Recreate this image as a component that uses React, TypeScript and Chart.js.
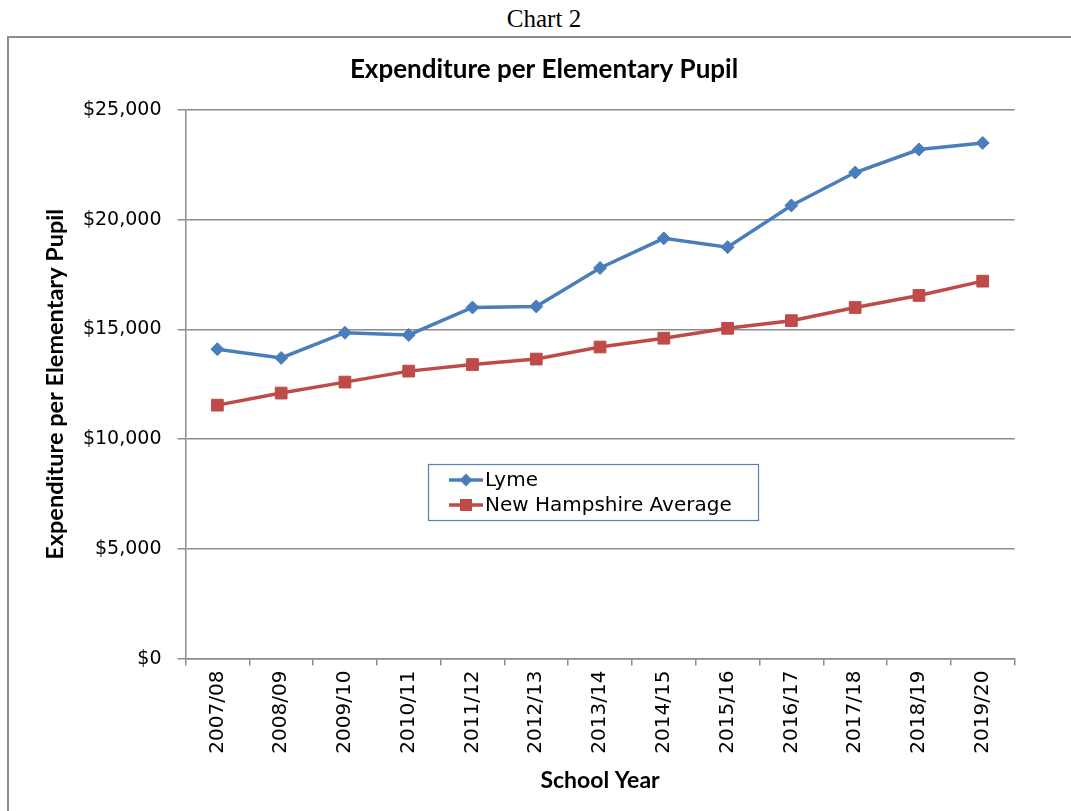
import React, { useEffect, useRef } from "react";
import { Chart, registerables } from "chart.js";

Chart.register(...registerables);

const categories = [
  "2007/08", "2008/09", "2009/10", "2010/11", "2011/12", "2012/13", "2013/14",
  "2014/15", "2015/16", "2016/17", "2017/18", "2018/19", "2019/20",
];
const lymeValues = [14100, 13700, 14850, 14750, 16000, 16050, 17800, 19150, 18750, 20650, 22150, 23200, 23500];
const nhValues = [11550, 12100, 12600, 13100, 13400, 13650, 14200, 14600, 15050, 15400, 16000, 16550, 17200];
const yTicks = [0, 5000, 10000, 15000, 20000, 25000];
const seriesNames = ["Lyme", "New Hampshire Average"];
const seriesColors = ["#4a7ebb", "#be4b48"];
const chartTitle = "Expenditure per Elementary Pupil";
const yTitle = "Expenditure per Elementary Pupil";
const xTitle = "School Year";
const pageTitle = "Chart 2";

const TICK_FONT = "'DejaVu Sans', Verdana, sans-serif";
const TITLE_FONT = "Lato, 'Open Sans', sans-serif";

function drawMarker(ctx: CanvasRenderingContext2D, style: string, x: number, y: number, r: number, color: string) {
  ctx.fillStyle = color;
  ctx.beginPath();
  if (style === "rectRot") {
    ctx.moveTo(x, y - r);
    ctx.lineTo(x + r, y);
    ctx.lineTo(x, y + r);
    ctx.lineTo(x - r, y);
    ctx.closePath();
  } else {
    const s = r * Math.SQRT1_2;
    ctx.rect(x - s, y - s, 2 * s, 2 * s);
  }
  ctx.fill();
}

const titlePlugin = {
  id: "centeredTitle",
  afterDraw(chart: any) {
    const { ctx } = chart;
    ctx.save();
    ctx.fillStyle = "#000";
    ctx.font = `bold 26px ${TITLE_FONT}`;
    ctx.textAlign = "center";
    ctx.textBaseline = "middle";
    ctx.fillText(chartTitle, 534, 31);
    ctx.restore();
  },
};

const boxLegend = {
  id: "boxLegend",
  afterDraw(chart: any) {
    const { ctx, chartArea: ca } = chart;
    const w = ca.right - ca.left;
    const h = ca.bottom - ca.top;
    const x = Math.round(ca.left + 0.2925 * w);
    const y = Math.round(ca.top + 0.645 * h);
    const bw = 330;
    const bh = 56;
    ctx.save();
    ctx.fillStyle = "#ffffff";
    ctx.fillRect(x, y, bw, bh);
    ctx.strokeStyle = "#4f81bd";
    ctx.lineWidth = 1.2;
    ctx.strokeRect(x + 0.5, y + 0.5, bw, bh);
    chart.data.datasets.forEach((ds: any, i: number) => {
      const cy = y + 16 + i * 25;
      ctx.strokeStyle = ds.borderColor;
      ctx.lineWidth = 3.5;
      ctx.beginPath();
      ctx.moveTo(x + 21, cy);
      ctx.lineTo(x + 55, cy);
      ctx.stroke();
      drawMarker(ctx, ds.pointStyle, x + 38, cy, ds.pointStyle === "rectRot" ? 6.5 : 8.5, ds.borderColor);
      ctx.fillStyle = "#000";
      ctx.font = `20px ${TICK_FONT}`;
      ctx.textBaseline = "middle";
      ctx.textAlign = "left";
      ctx.fillText(ds.label, x + 57, cy + 1);
    });
    ctx.restore();
  },
};

export default function App() {
  const canvasRef = useRef<HTMLCanvasElement | null>(null);

  useEffect(() => {
    const canvas = canvasRef.current;
    if (!canvas) return;
    const chart = new Chart(canvas, {
      type: "line",
      data: {
        labels: categories,
        datasets: [
          {
            label: seriesNames[0],
            data: lymeValues,
            borderColor: seriesColors[0],
            backgroundColor: seriesColors[0],
            borderWidth: 3.5,
            pointStyle: "rectRot",
            pointRadius: 6.5,
            pointBorderWidth: 1,
            pointBackgroundColor: seriesColors[0],
            pointBorderColor: seriesColors[0],
            tension: 0,
          },
          {
            label: seriesNames[1],
            data: nhValues,
            borderColor: seriesColors[1],
            backgroundColor: seriesColors[1],
            borderWidth: 3.5,
            pointStyle: "rect",
            pointRadius: 8.3,
            pointBorderWidth: 1,
            pointBackgroundColor: seriesColors[1],
            pointBorderColor: seriesColors[1],
            tension: 0,
          },
        ],
      },
      options: {
        responsive: false,
        animation: false,
        devicePixelRatio: 1,
        layout: { padding: { left: 31, right: 56.4, top: 71, bottom: 0 } },
        plugins: {
          legend: { display: false },
          tooltip: { enabled: false },
          title: { display: false },
        },
        scales: {
          x: {
            offset: true,
            grid: {
              offset: true,
              drawOnChartArea: false,
              drawTicks: true,
              tickLength: 7,
              color: "#8c8c8c",
              lineWidth: 1.5,
            },
            border: { color: "#8c8c8c", width: 1.5 },
            ticks: {
              autoSkip: false,
              minRotation: 90,
              maxRotation: 90,
              padding: 5,
              color: "#000",
              font: { family: TICK_FONT, size: 20 },
            },
            title: {
              display: true,
              text: xTitle,
              color: "#000",
              font: { family: TITLE_FONT, size: 23, weight: "bold" },
              padding: { top: 0, bottom: 17 },
            },
            afterFit(scale: any) {
              scale.height = 152.4;
            },
          },
          y: {
            min: 0,
            max: 25000,
            afterBuildTicks(scale: any) {
              scale.ticks = yTicks.map((v) => ({ value: v }));
            },
            grid: {
              color: "#8c8c8c",
              lineWidth: 1.5,
              tickLength: 8,
              drawTicks: true,
            },
            border: { color: "#8c8c8c", width: 1.5 },
            ticks: {
              padding: 16,
              color: "#000",
              font: { family: TICK_FONT, size: 19 },
              callback: (v: any) => "$" + Number(v).toLocaleString("en-US"),
            },
            title: {
              display: true,
              text: yTitle,
              color: "#000",
              font: { family: TITLE_FONT, size: 23.5, weight: "bold" },
              padding: 0,
            },
            afterFit(scale: any) {
              scale.width = 144.5;
            },
          },
        },
      },
      plugins: [titlePlugin, boxLegend],
    });
    return () => chart.destroy();
  }, []);

  return (
    <div
      style={{
        position: "absolute",
        left: 0,
        top: 0,
        width: 1071,
        height: 811,
        overflow: "hidden",
        background: "#fff",
      }}
    >
      <div
        style={{
          position: "absolute",
          left: 0,
          top: 3,
          width: 1088,
          textAlign: "center",
          fontFamily: "'Liberation Serif', 'Times New Roman', serif",
          fontSize: 25,
          lineHeight: "32px",
          color: "#000",
        }}
      >
        {pageTitle}
      </div>
      <div
        style={{
          position: "absolute",
          left: 7,
          top: 36,
          width: 1100,
          height: 800,
          borderTop: "2px solid #8c8c8c",
          borderLeft: "2px solid #8c8c8c",
        }}
      />
      <canvas
        ref={canvasRef}
        width={1061}
        height={772}
        style={{ position: "absolute", left: 10, top: 39, width: 1061, height: 772, display: "block" }}
      />
    </div>
  );
}
